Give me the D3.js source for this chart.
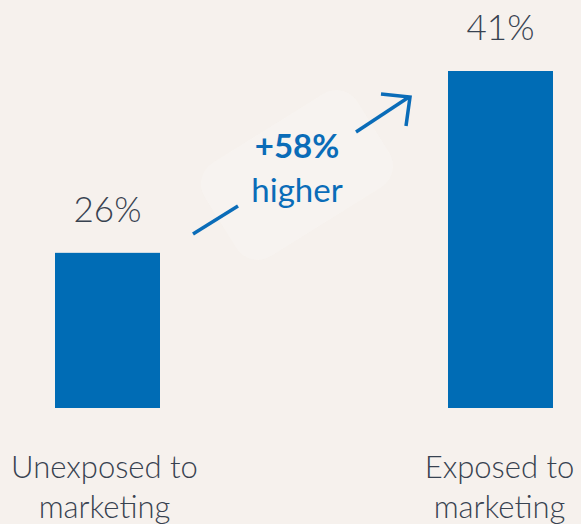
<!DOCTYPE html>
<html><head><meta charset="utf-8">
<script src="https://cdn.jsdelivr.net/npm/d3@7"></script>
<style>html,body{margin:0;padding:0;background:#f6f1ed;}svg{display:block;}</style>
</head><body>
<script>
const categories = ["Unexposed to marketing", "Exposed to marketing"];
const labelLines = [["Unexposed to", "marketing"], ["Exposed to", "marketing"]];
const values = [26, 41];
const valueLabels = ["26%", "41%"];
const deltaLabel = "+58%";
const deltaSub = "higher";

const W = 581, H = 524;
const svg = d3.select("body").append("svg").attr("width", W).attr("height", H);
svg.append("rect").attr("width", W).attr("height", H).attr("fill", "#f6f1ed");

const x = d3.scalePoint().domain(categories).range([107.5, 500.5]);
const barW = 105;
const y = d3.scaleLinear().domain([13.2, 41]).range([408, 71]);

// bars
svg.selectAll("rect.bar").data(values).join("rect")
  .attr("class", "bar")
  .attr("x", (d, i) => x(categories[i]) - barW / 2)
  .attr("y", d => y(d))
  .attr("width", barW)
  .attr("height", d => y.range()[0] - y(d))
  .attr("fill", "#006cb5");

// value labels
svg.selectAll("text.val").data(values).join("text")
  .attr("class", "val")
  .attr("x", (d, i) => x(categories[i]))
  .attr("y", d => y(d) - 31)
  .attr("text-anchor", "middle")
  .attr("font-family", "Lato")
  .attr("font-weight", 300)
  .attr("font-size", 35)
  .attr("fill", "#384250")
  .text((d, i) => valueLabels[i]);

// category labels
categories.forEach((c, i) => {
  const cx = x(c) - (i === 0 ? 3 : 1);
  const t = svg.append("text")
    .attr("x", cx)
    .attr("text-anchor", "middle")
    .attr("font-family", "Lato")
    .attr("font-weight", 300)
    .attr("font-size", 31)
    .attr("fill", "#384250");
  labelLines[i].forEach((ln, j) => {
    t.append("tspan").attr("x", cx).attr("y", 478 + j * 40).text(ln);
  });
});

// annotation
const blue = "#0a6cb8";
const g = svg.append("g");
g.append("rect")
  .attr("x", -90).attr("y", -55).attr("width", 180).attr("height", 110).attr("rx", 25)
  .attr("fill", "#f8f5f2").attr("opacity", 0.6)
  .attr("transform", "translate(297,175) rotate(-32)");
const lineStyle = sel => sel.attr("stroke", blue).attr("stroke-width", 3.5)
  .attr("stroke-linecap", "butt").attr("fill", "none");
g.append("line").attr("x1", 193).attr("y1", 234).attr("x2", 238).attr("y2", 206).call(lineStyle);
g.append("line").attr("x1", 356).attr("y1", 132).attr("x2", 409).attr("y2", 97).call(lineStyle);
g.append("path").attr("d", "M381,94 L410,97 L406,126").call(lineStyle)
  .attr("stroke-linejoin", "miter");

g.append("text").attr("x", 297).attr("y", 158).attr("text-anchor", "middle")
  .attr("font-family", "Lato").attr("font-weight", 700).attr("font-size", 33)
  .attr("fill", blue).text(deltaLabel);
g.append("text").attr("x", 297).attr("y", 202).attr("text-anchor", "middle")
  .attr("font-family", "Lato").attr("font-weight", 400).attr("font-size", 33)
  .attr("fill", blue).text(deltaSub);
</script>
</body></html>
